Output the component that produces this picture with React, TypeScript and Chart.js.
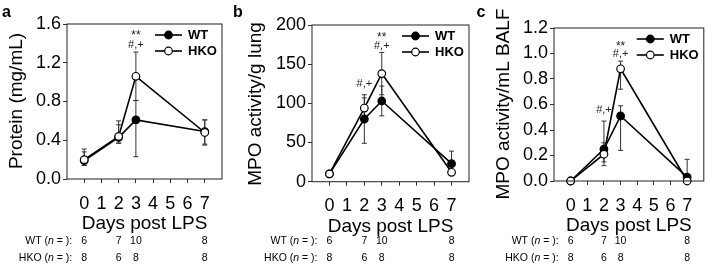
import React, { useEffect, useRef } from 'react';
import { Chart, registerables } from 'chart.js';
Chart.register(...registerables);

const FONT = "'Liberation Sans', Arial, Helvetica, sans-serif";
const W = 709;
const H = 265;

// ---------- shared data ----------
const days = [0, 2, 3, 7];
const xTicks = [0, 1, 2, 3, 4, 5, 6, 7];
const xTitle = 'Days post LPS';
const seriesNames = ['WT', 'HKO'];
const wtCounts = ['6', '7', '10', '8'];
const hkoCounts = ['8', '6', '8', '8'];

// ---------- panel a ----------
const aYTicks = [0, 0.4, 0.8, 1.2, 1.6];
const aWT = [0.19, 0.43, 0.61, 0.49];
const aWTUp = [0.09, 0.13, 0.2, 0.12];
const aWTDown = [0.05, 0.06, 0.38, 0.14];
const aHKO = [0.2, 0.44, 1.06, 0.48];
const aHKOUp = [0.11, 0.16, 0.25, 0.13];
const aHKODown = [0.06, 0.07, 0.25, 0.12];
const aMarkDays = [3, 3];
const aMarkText = ['**', '#,+'];
const aMarkAt = [1.51, 1.38];

// ---------- panel b ----------
const bYTicks = [0, 50, 100, 150, 200];
const bWT = [10, 80, 103, 23];
const bWTUp = [3, 31, 19, 16];
const bWTDown = [3, 31, 19, 8];
const bHKO = [10, 94, 138, 12];
const bHKOUp = [2, 13, 27, 3];
const bHKODown = [2, 13, 27, 3];
const bMarkDays = [2, 3, 3];
const bMarkText = ['#,+', '**', '#,+'];
const bMarkAt = [125, 187, 173];

// ---------- panel c ----------
const cYTicks = [0, 0.2, 0.4, 0.6, 0.8, 1.0, 1.2];
const cWT = [0, 0.25, 0.51, 0.03];
const cWTUp = [0, 0.22, 0.08, 0.14];
const cWTDown = [0, 0.1, 0.27, 0.03];
const cHKO = [0, 0.21, 0.88, 0];
const cHKOUp = [0, 0.09, 0.06, 0];
const cHKODown = [0, 0.09, 0.16, 0];
const cMarkDays = [2, 3, 3];
const cMarkText = ['#,+', '**', '#,+'];
const cMarkAt = [0.557, 1.08, 1.0];

const panels = [
  {
    letter: 'a', letterX: 2, title: 'Protein (mg/mL)', titleX: 21.5, titleY: 101,
    padLeft: 0, axisW: 67, plotRight: 222, plotTop: 24, plotBottom: 179,
    yTicks: aYTicks, dec: 1,
    wt: aWT, wtUp: aWTUp, wtDown: aWTDown, hko: aHKO, hkoUp: aHKOUp, hkoDown: aHKODown,
    markDays: aMarkDays, markText: aMarkText, markAt: aMarkAt,
  },
  {
    letter: 'b', letterX: 233, title: 'MPO activity/g lung', titleX: 261, titleY: 104,
    padLeft: 235, axisW: 77, plotRight: 469, plotTop: 25, plotBottom: 181.7,
    yTicks: bYTicks, dec: 0,
    wt: bWT, wtUp: bWTUp, wtDown: bWTDown, hko: bHKO, hkoUp: bHKOUp, hkoDown: bHKODown,
    markDays: bMarkDays, markText: bMarkText, markAt: bMarkAt,
  },
  {
    letter: 'c', letterX: 476.5, title: 'MPO activity/mL BALF', titleX: 508.5, titleY: 104,
    padLeft: 475, axisW: 79, plotRight: 708, plotTop: 28, plotBottom: 181,
    yTicks: cYTicks, dec: 1,
    wt: cWT, wtUp: cWTUp, wtDown: cWTDown, hko: cHKO, hkoUp: cHKOUp, hkoDown: cHKODown,
    markDays: cMarkDays, markText: cMarkText, markAt: cMarkAt,
  },
];

function makeChart(canvas: HTMLCanvasElement, P: any) {
  const overlay = {
    id: 'overlay' + P.letter,
    beforeDatasetsDraw(chart: any) {
      const ctx = chart.ctx;
      const xs = chart.scales.x;
      const ys = chart.scales.y;
      ctx.save();
      ctx.strokeStyle = '#333';
      ctx.lineWidth = 1;
      const sets = [
        [P.wt, P.wtUp, P.wtDown],
        [P.hko, P.hkoUp, P.hkoDown],
      ];
      sets.forEach(([vals, up, down]: any) => {
        days.forEach((d, i) => {
          if (!up[i] && !down[i]) return;
          const x = xs.getPixelForValue(d);
          const yt = ys.getPixelForValue(vals[i] + up[i]);
          const yb = ys.getPixelForValue(vals[i] - down[i]);
          ctx.beginPath();
          ctx.moveTo(x, yt);
          ctx.lineTo(x, yb);
          ctx.moveTo(x - 2.5, yt);
          ctx.lineTo(x + 2.5, yt);
          ctx.moveTo(x - 2.5, yb);
          ctx.lineTo(x + 2.5, yb);
          ctx.stroke();
        });
      });
      ctx.restore();
    },
    afterDraw(chart: any) {
      const ctx = chart.ctx;
      const a = chart.chartArea;
      const xs = chart.scales.x;
      const ys = chart.scales.y;
      ctx.save();
      // frame
      ctx.strokeStyle = '#222';
      ctx.lineWidth = 1;
      ctx.strokeRect(a.left, a.top, a.right - a.left, a.bottom - a.top);

      // legend
      seriesNames.forEach((name, k) => {
        const y = a.top + 11 + 16 * k;
        ctx.strokeStyle = '#000';
        ctx.lineWidth = 1.6;
        ctx.beginPath();
        ctx.moveTo(a.right - 67, y);
        ctx.lineTo(a.right - 40, y);
        ctx.stroke();
        ctx.beginPath();
        ctx.arc(a.right - 53.5, y, 3.8, 0, Math.PI * 2);
        ctx.fillStyle = k === 0 ? '#000' : '#fff';
        ctx.fill();
        ctx.lineWidth = 1.2;
        ctx.stroke();
        ctx.fillStyle = '#000';
        ctx.font = `bold 13px ${FONT}`;
        ctx.textAlign = 'left';
        ctx.textBaseline = 'middle';
        ctx.fillText(name, a.right - 34, y + 0.5);
      });

      // significance marks
      ctx.fillStyle = '#222';
      ctx.textAlign = 'center';
      ctx.textBaseline = 'middle';
      P.markText.forEach((t: string, i: number) => {
        const x = xs.getPixelForValue(P.markDays[i]);
        const y = ys.getPixelForValue(P.markAt[i]);
        ctx.font = t === '**' ? `12px ${FONT}` : `11px ${FONT}`;
        ctx.fillText(t, x, y + (t === '**' ? 3 : 0));
      });

      // y title
      ctx.fillStyle = '#000';
      ctx.font = `19px ${FONT}`;
      ctx.save();
      ctx.translate(P.titleX, P.titleY);
      ctx.rotate(-Math.PI / 2);
      ctx.textAlign = 'center';
      ctx.textBaseline = 'alphabetic';
      ctx.fillText(P.title, 0, 0);
      ctx.restore();

      // x title
      ctx.textAlign = 'center';
      ctx.textBaseline = 'alphabetic';
      ctx.fillText(xTitle, (a.left + a.right) / 2, a.bottom + 50);

      // n table
      const rows = [
        ['WT', wtCounts, 243.5],
        ['HKO', hkoCounts, 261],
      ];
      const x0 = xs.getPixelForValue(days[0]);
      rows.forEach(([name, counts, by]: any) => {
        const parts = [
          [name + ' (', `10.5px ${FONT}`],
          ['n', `italic 10.5px ${FONT}`],
          [' = ):', `10.5px ${FONT}`],
        ];
        let total = 0;
        parts.forEach(([t, f]) => { ctx.font = f; total += ctx.measureText(t).width; });
        let x = x0 - 12 - total;
        ctx.textAlign = 'left';
        parts.forEach(([t, f]) => {
          ctx.font = f;
          ctx.fillText(t, x, by);
          x += ctx.measureText(t).width;
        });
        ctx.font = `10.5px ${FONT}`;
        ctx.textAlign = 'center';
        days.forEach((d, i) => {
          ctx.fillText(counts[i], xs.getPixelForValue(d), by);
        });
      });

      // panel letter
      ctx.font = `bold 16px ${FONT}`;
      ctx.textAlign = 'left';
      ctx.fillText(P.letter, P.letterX, 17);
      ctx.restore();
    },
  };

  const gridOpts = { drawOnChartArea: false, drawTicks: true, tickLength: 4, color: '#333', lineWidth: 1 };

  return new Chart(canvas, {
    type: 'line',
    data: {
      datasets: [
        {
          label: 'HKO',
          data: days.map((d, i) => ({ x: d, y: P.hko[i] })),
          borderColor: '#000',
          borderWidth: 1.6,
          pointRadius: 3.8,
          pointBackgroundColor: '#fff',
          pointBorderColor: '#000',
          pointBorderWidth: 1.2,
          tension: 0,
          clip: false,
          order: 0,
        },
        {
          label: 'WT',
          data: days.map((d, i) => ({ x: d, y: P.wt[i] })),
          borderColor: '#000',
          borderWidth: 1.6,
          pointRadius: 3.8,
          pointBackgroundColor: '#000',
          pointBorderColor: '#000',
          pointBorderWidth: 1.2,
          tension: 0,
          clip: false,
          order: 1,
        },
      ],
    } as any,
    options: {
      responsive: false,
      maintainAspectRatio: false,
      animation: false,
      devicePixelRatio: 1,
      events: [],
      layout: { padding: { left: P.padLeft, right: W - P.plotRight, top: P.plotTop, bottom: 0 } },
      plugins: { legend: { display: false }, tooltip: { enabled: false } },
      scales: {
        x: {
          type: 'linear',
          min: -1,
          max: 8,
          afterBuildTicks: (s: any) => { s.ticks = xTicks.map((v) => ({ value: v })); },
          afterFit: (s: any) => { s.height = H - P.plotBottom; },
          ticks: {
            color: '#000',
            font: { family: FONT, size: 18 },
            padding: 10,
            autoSkip: false,
            maxRotation: 0,
            callback: (v: any) => String(v),
          },
          grid: gridOpts,
          border: { display: false },
        },
        y: {
          min: P.yTicks[0],
          max: P.yTicks[P.yTicks.length - 1],
          afterBuildTicks: (s: any) => { s.ticks = P.yTicks.map((v: number) => ({ value: v })); },
          afterFit: (s: any) => { s.width = P.axisW; },
          ticks: {
            color: '#000',
            font: { family: FONT, size: 18 },
            padding: 2,
            callback: (v: any) => Number(v).toFixed(P.dec),
          },
          grid: gridOpts,
          border: { display: false },
        },
      },
    } as any,
    plugins: [overlay],
  });
}

export default function App() {
  const r0 = useRef<HTMLCanvasElement>(null);
  const r1 = useRef<HTMLCanvasElement>(null);
  const r2 = useRef<HTMLCanvasElement>(null);
  useEffect(() => {
    const refs = [r0, r1, r2];
    const charts = panels.map((P, i) => makeChart(refs[i].current as HTMLCanvasElement, P));
    return () => charts.forEach((c) => c.destroy());
  }, []);
  const st: React.CSSProperties = { position: 'absolute', left: 0, top: 0, width: W, height: H };
  return (
    <div style={{ position: 'fixed', left: 0, top: 0, width: W, height: H, background: '#fff' }}>
      <canvas ref={r0} width={W} height={H} style={st} />
      <canvas ref={r1} width={W} height={H} style={st} />
      <canvas ref={r2} width={W} height={H} style={st} />
    </div>
  );
}
